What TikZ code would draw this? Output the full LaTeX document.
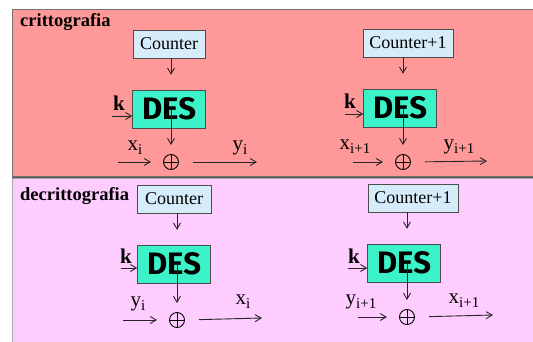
\documentclass[tikz,border=0pt]{standalone}
\usepackage{fontspec}
\setmainfont{Liberation Serif}
\newfontfamily\desfont{Fira Sans}
\usepackage{tikz}
\usetikzlibrary{arrows.meta,calc}
\definecolor{encbg}{HTML}{FF9999}
\definecolor{decbg}{HTML}{FFCCFF}
\definecolor{ctrblue}{HTML}{D6ECFA}
\definecolor{desgreen}{HTML}{3CF2C8}
\newcommand{\lowidx}[1]{\raisebox{-0.45ex}{\fontsize{15}{15}\selectfont #1}}
\tikzset{
  panel/.style ={draw=black!55, line width=1pt},
  ctr/.style   ={draw=black!70, fill=ctrblue, minimum height=28pt, inner sep=0pt, font=\fontsize{18}{20}\selectfont},
  des/.style   ={draw=black!70, fill=desgreen, minimum width=73pt, minimum height=38pt, inner sep=0pt, font=\desfont\bfseries\fontsize{31}{32}\selectfont},
  xorop/.style ={draw, circle, minimum size=15pt, inner sep=0pt, line width=0.9pt,
                 path picture={\draw[line width=0.9pt] (path picture bounding box.north) -- (path picture bounding box.south)
                                                       (path picture bounding box.west) -- (path picture bounding box.east);}},
  arr/.style   ={-{Straight Barb[length=6pt,width=7pt]}, line width=0.9pt, draw=black!85},
  lbl/.style   ={font=\fontsize{21}{22}\selectfont, inner sep=0pt},
  ttl/.style   ={font=\bfseries\fontsize{18.5}{20}\selectfont, inner sep=0pt, anchor=west},
}
\begin{document}
\begin{tikzpicture}[x=1pt, y=-1pt]
  \useasboundingbox (0,0) rectangle (533,342);
  % two coloured panels
  \fill[white] (0,0) rectangle (533,342);
  \filldraw[panel, fill=encbg] (12,10) rectangle (540,177);
  \filldraw[panel, fill=decbg, draw=black!35] (12,179) rectangle (540,345);
  \draw[line width=1.4pt, black!65] (12,177.5) -- (533,177.5);
  \node[ttl] (enc) at (20,22)  {crittografia};
  \node[ttl] (dec) at (20,196) {decrittografia};

  % --- encryption, block i
  \node[ctr, minimum width=72pt] (ctr1) at (169,44)  {Counter};
  \node[des]                     (des1) at (169,109) {DES};
  \node[xorop]                   (xor1) at (171,162) {};
  \coordinate (kin1) at (112,116);
  \coordinate (xin1) at (118,162);
  \coordinate (yout1) at (257,162);
  \draw[arr, shorten >=15pt] (xor1 |- ctr1.south) -- (xor1 |- des1.north);
  \draw[arr] (kin1) -- (kin1 -| des1.west);
  \draw[arr, shorten >=9pt] (xor1 |- des1) -- (xor1.north);
  \draw[arr, shorten >=12pt] (xin1) -- (xor1.west);
  \draw[arr, shorten <=14pt] (xor1.east) -- (yout1);
  \node[lbl] (k1) at (119,103) {\textbf{k}};
  \node[lbl] (x1) at (135,148) {x\lowidx{i}};
  \node[lbl] (y1) at (240,148) {y\lowidx{i}};

  % --- encryption, block i+1
  \node[ctr, minimum width=90pt] (ctr2) at (408,43)  {Counter+1};
  \node[des]                     (des2) at (400,108) {DES};
  \node[xorop]                   (xor2) at (403,162) {};
  \coordinate (kin2) at (345,114);
  \coordinate (xin2) at (353,162);
  \coordinate (yout2) at (487,161);
  \draw[arr, shorten >=15pt] (xor2 |- ctr2.south) -- (xor2 |- des2.north);
  \draw[arr] (kin2) -- (kin2 -| des2.west);
  \draw[arr, shorten >=9pt] (xor2 |- des2) -- (xor2.north);
  \draw[arr, shorten >=12pt] (xin2) -- (xor2.west);
  \draw[arr, shorten <=14pt] (xor2.east) -- (yout2);
  \node[lbl] (k2) at (350,101) {\textbf{k}};
  \node[lbl] (x2) at (355,147) {x\lowidx{i+1}};
  \node[lbl] (y2) at (459,147) {y\lowidx{i+1}};

  % --- decryption, block i
  \node[ctr, minimum width=74pt] (ctr3) at (174,199) {Counter};
  \node[des]                     (des3) at (174,264) {DES};
  \node[xorop]                   (xor3) at (177,320) {};
  \coordinate (kin3) at (121,268);
  \coordinate (yin3) at (123,320);
  \coordinate (xout3) at (262,318);
  \draw[arr, shorten >=15pt] (xor3 |- ctr3.south) -- (xor3 |- des3.north);
  \draw[arr] (kin3) -- (kin3 -| des3.west);
  \draw[arr, shorten >=9pt] (xor3 |- des3) -- (xor3.north);
  \draw[arr, shorten >=12pt] (yin3) -- (xor3.west);
  \draw[arr, shorten <=14pt] (xor3.east) -- (xout3);
  \node[lbl] (k3) at (126,256) {\textbf{k}};
  \node[lbl] (y3) at (138,304) {y\lowidx{i}};
  \node[lbl] (x3) at (243,302) {x\lowidx{i}};

  % --- decryption, block i+1
  \node[ctr, minimum width=90pt] (ctr4) at (413,198) {Counter+1};
  \node[des]                     (des4) at (404,263) {DES};
  \node[xorop]                   (xor4) at (407,317) {};
  \coordinate (kin4) at (348,268);
  \coordinate (yin4) at (358,317);
  \coordinate (xout4) at (493,315);
  \draw[arr, shorten >=15pt] (xor4 |- ctr4.south) -- (xor4 |- des4.north);
  \draw[arr] (kin4) -- (kin4 -| des4.west);
  \draw[arr, shorten >=9pt] (xor4 |- des4) -- (xor4.north);
  \draw[arr, shorten >=12pt] (yin4) -- (xor4.west);
  \draw[arr, shorten <=14pt] (xor4.east) -- (xout4);
  \node[lbl] (k4) at (354,256) {\textbf{k}};
  \node[lbl] (y4) at (361,302) {y\lowidx{i+1}};
  \node[lbl] (x4) at (464,301) {x\lowidx{i+1}};
\end{tikzpicture}
\end{document}
